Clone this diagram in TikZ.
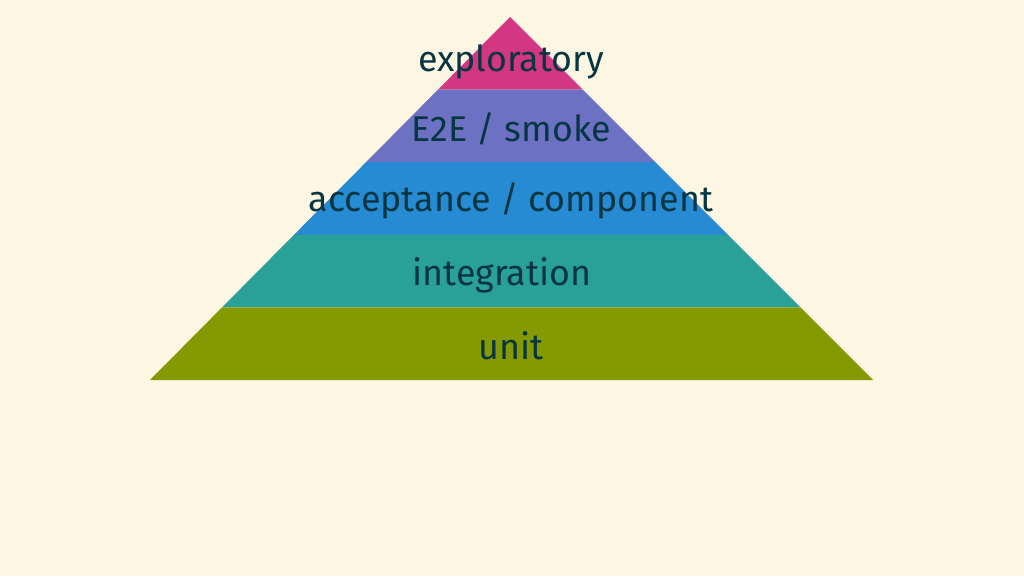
\documentclass[tikz,border=0pt]{standalone}
\usepackage{fontspec}
\setmainfont{Fira Sans}
\usetikzlibrary{calc}
\definecolor{bgc}{HTML}{FDF6E3}
\definecolor{txt}{HTML}{073642}
\definecolor{smag}{HTML}{D33682}
\definecolor{svio}{HTML}{6C71C4}
\definecolor{sblu}{HTML}{268BD2}
\definecolor{scya}{HTML}{2AA198}
\definecolor{sgrn}{HTML}{859900}
\begin{document}
\begin{tikzpicture}[x=1pt,y=-1pt,
  lbl/.style={text=txt,font=\fontsize{35.8}{42}\selectfont,inner sep=0pt,anchor=center}]
\useasboundingbox[fill=bgc] (0,0) rectangle (1024,576);
\coordinate (A) at (510,17);
\coordinate (L) at (150,380);
\coordinate (R) at (873,380);
\foreach \i/\c in {0/smag,1/svio,2/sblu,3/scya,4/sgrn}{
  \pgfmathsetmacro{\ta}{\i/5}
  \pgfmathsetmacro{\tb}{(\i+1)/5}
  \fill[\c] ($(A)!\ta!(L)$) -- ($(A)!\tb!(L)$) -- ($(A)!\tb!(R)$) -- ($(A)!\ta!(R)$) -- cycle;
}
\node[lbl] (t1) at (511,62) {exploratory};
\node[lbl] (t2) at (511,129) {E2E / smoke};
\node[lbl] (t3) at (511,201) {acceptance / component};
\node[lbl] (t4) at (502,275) {integration};
\node[lbl] (t5) at (511,346) {unit};
\end{tikzpicture}
\end{document}
